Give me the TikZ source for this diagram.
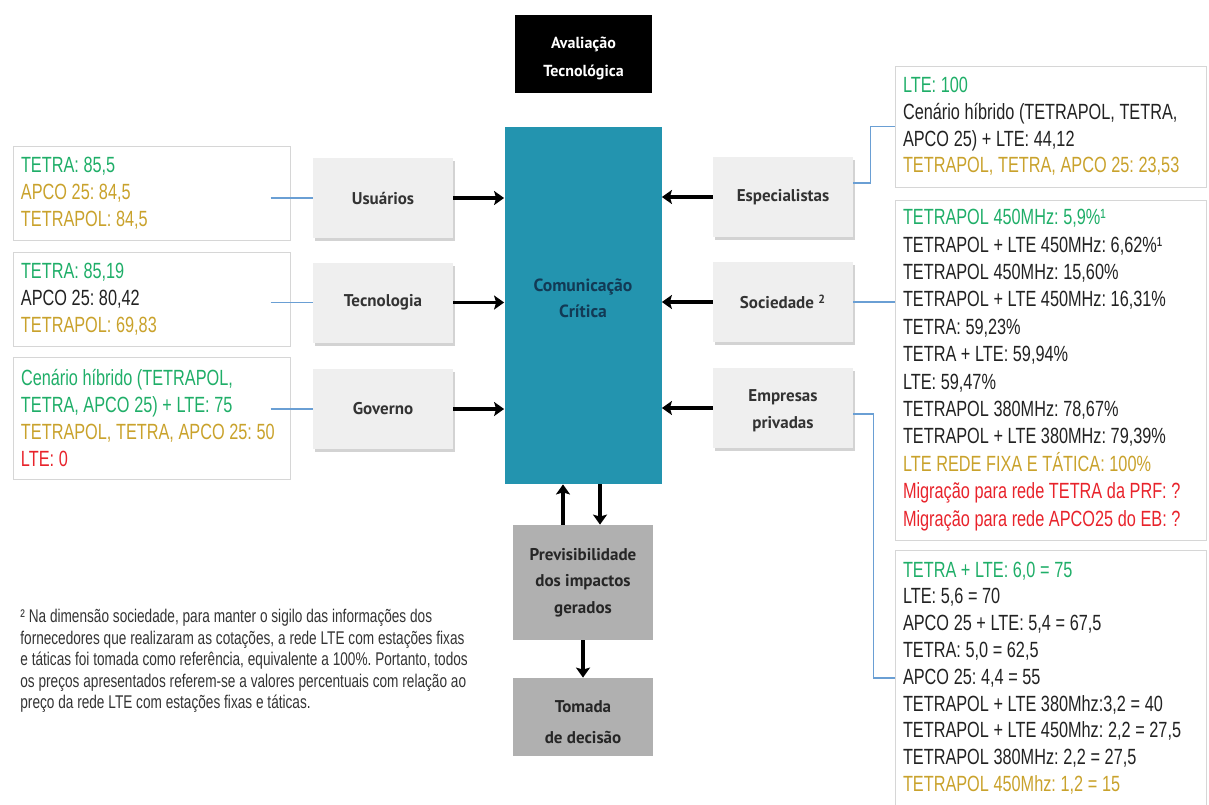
\documentclass[tikz,border=0pt]{standalone}
\usepackage{fontspec}
\setmainfont{Liberation Sans}
\newfontfamily\narrowfont[FakeStretch=0.74]{Liberation Sans}
\newfontfamily\labelfont{PT Sans}
\newcommand{\tightspace}{\spaceskip 0.21em plus 0.1em minus 0.05em\xspaceskip 0.21em\relax}
\newcommand{\listfont}[2]{\narrowfont\fontsize{#1}{#2}\selectfont\tightspace}
\usetikzlibrary{arrows.meta, shadows}
\definecolor{cteal}{HTML}{2394AF}
\definecolor{cnavy}{HTML}{123A55}
\definecolor{cbox}{HTML}{EFEFEF}
\definecolor{cdark}{HTML}{B0B0B0}
\definecolor{cline}{HTML}{D6D6D6}
\definecolor{clink}{HTML}{6A9FD4}
\definecolor{cgreen}{HTML}{1FAE68}
\definecolor{cgold}{HTML}{C9A22C}
\definecolor{cred}{HTML}{E8232B}
\definecolor{ctext}{HTML}{222222}
\definecolor{clabel}{HTML}{333333}
\frenchspacing
\tikzset{
  every picture/.style={x=0.5pt, y=-0.5pt},
  dimbox/.style={fill=cbox, drop shadow={opacity=0.35, shadow xshift=1pt, shadow yshift=-1.5pt},
    minimum width=70pt, minimum height=40pt, align=center, text=clabel,
    font=\labelfont\bfseries\fontsize{8.5}{13.5}\selectfont},
  greybox/.style={fill=cdark, minimum width=70pt, align=center, text=black!85,
    font=\labelfont\bfseries\fontsize{8.5}{13.2}\selectfont},
  listbox/.style={draw=cline, line width=0.5pt, align=left, inner xsep=4pt, text=ctext,
    font=\listfont{11}{13.4}, execute at begin node=\tightspace},
  flow/.style={-{Stealth[length=5pt, width=7pt, inset=1pt]}, line width=1.6pt},
  link/.style={draw=clink, line width=0.6pt},
}

\begin{document}
\begin{tikzpicture}
  \useasboundingbox (0,0) rectangle (1209,804);
  % centre column
  \node[fill=black, text=white, minimum width=68.5pt, minimum height=39pt, align=center,
        font=\labelfont\bfseries\fontsize{8}{14}\selectfont] (title) at (583.5,54) {\rule{0pt}{10pt}Avaliação\\Tecnológica};
  \node[fill=cteal, text=cnavy, minimum width=78.5pt, minimum height=178.5pt, align=center,
        font=\labelfont\bfseries\fontsize{8.8}{13}\selectfont] (comm) at (583,305.5) {Comunicação\\Crítica\rule[-7pt]{0pt}{7pt}};
  \node[greybox, minimum height=57.5pt] (prev) at (583,582.5) {Previsibilidade\\dos impactos\\gerados};
  \node[greybox, minimum height=39pt, font=\labelfont\bfseries\fontsize{8.5}{15.5}\selectfont] (decisao) at (583,717) {\rule{0pt}{11pt}Tomada\\de decisão};

  % dimensions
  \node[dimbox] (usu) at (383,198) {Usuários};
  \node[dimbox] (tec) at (383,302.5) {Tecnologia};
  \node[dimbox] (gov) at (383,409) {Governo};
  \node[dimbox] (esp) at (783,197) {Especialistas};
  \node[dimbox] (soc) at (783,302) {Sociedade~\textsuperscript{2}};
  \node[dimbox] (emp) at (783,408) {\rule{0pt}{9pt}Empresas\\privadas};

  % results
  \node[listbox, text width=130.5pt, minimum height=47pt] (usu-list) at (151.5,193)
    {\textcolor{cgreen}{TETRA: 85,5}\\ \textcolor{cgold}{APCO 25: 84,5}\\ \textcolor{cgold}{TETRAPOL: 84,5}};
  \node[listbox, text width=130.5pt, minimum height=47pt] (tec-list) at (151.5,299)
    {\textcolor{cgreen}{TETRA: 85,19}\\ APCO 25: 80,42\\ \textcolor{cgold}{TETRAPOL: 69,83}};
  \node[listbox, text width=130.5pt, minimum height=61pt] (gov-list) at (151.5,418)
    {\textcolor{cgreen}{Cenário híbrido (TETRAPOL,}\\ \textcolor{cgreen}{TETRA, APCO 25) + LTE: 75}\\
     \textcolor{cgold}{TETRAPOL, TETRA, APCO 25: 50}\\ \textcolor{cred}{LTE: 0}};
  \node[listbox, text width=147.5pt, minimum height=60.5pt] (esp-list) at (1050.5,126.5)
    {\textcolor{cgreen}{LTE: 100}\\ Cenário híbrido (TETRAPOL, TETRA,\\ APCO 25) + LTE: 44,12\\
     \textcolor{cgold}{TETRAPOL, TETRA, APCO 25: 23,53}};
  \node[listbox, text width=147.5pt, minimum height=170pt, font=\listfont{11}{13.7}] (soc-list) at (1050.5,370)
    {\textcolor{cgreen}{TETRAPOL 450MHz: 5,9\%¹}\\ TETRAPOL + LTE 450MHz: 6,62\%¹\\ TETRAPOL 450MHz: 15,60\%\\
     TETRAPOL + LTE 450MHz: 16,31\%\\ TETRA: 59,23\%\\ TETRA + LTE: 59,94\%\\ LTE: 59,47\%\\
     TETRAPOL 380MHz: 78,67\%\\ TETRAPOL + LTE 380MHz: 79,39\%\\ \textcolor{cgold}{LTE REDE FIXA E TÁTICA: 100\%}\\
     \textcolor{cred}{Migração para rede TETRA da PRF: ?}\\ \textcolor{cred}{Migração para rede APCO25 do EB: ?}};
  \node[listbox, text width=147.5pt, minimum height=128pt] (emp-list) at (1050.5,678)
    {\textcolor{cgreen}{TETRA + LTE: 6,0 = 75}\\ LTE: 5,6 = 70\\ APCO 25 + LTE: 5,4 = 67,5\\ TETRA: 5,0 = 62,5\\
     APCO 25: 4,4 = 55\\ TETRAPOL + LTE 380Mhz:3,2 = 40\\ TETRAPOL + LTE 450Mhz: 2,2 = 27,5\\
     TETRAPOL 380MHz: 2,2 = 27,5\\ \textcolor{cgold}{TETRAPOL 450Mhz: 1,2 = 15}};

  \node[anchor=north west, inner sep=0pt, align=left, text=black!80,
        font=\listfont{9.2}{10.75}] (nota) at (20,609)
    {² Na dimensão sociedade, para manter o sigilo das informações dos\\
     fornecedores que realizaram as cotações, a rede LTE com estações fixas\\
     e táticas foi tomada como referência, equivalente a 100\%. Portanto, todos\\
     os preços apresentados referem-se a valores percentuais com relação ao\\
     preço da rede LTE com estações fixas e táticas.};

  \foreach \n in {usu,tec,gov} {
    \draw[flow] (\n) -- (\n -| comm.west);
    \draw[link, shorten <=-10pt] (\n-list.east |- \n) -- (\n);
  }
  \foreach \n in {esp,soc,emp} \draw[flow] (\n) -- (\n -| comm.east);
  \draw[flow] ([xshift=-10pt]prev.north) -- ([xshift=-10pt]comm.south);
  \draw[flow] ([xshift=8.5pt]comm.south) -- ([xshift=8.5pt]prev.north);
  \draw[flow] (prev) -- (decisao);

  \draw[link] ([yshift=7pt]esp.east) -- ++(8.5pt,0) |- (esp-list.west);
  \draw[link] (soc) -- (soc -| soc-list.west);
  \draw[link] ([yshift=-3pt]emp.east) -- ++(10pt,0) |- (emp-list.west);
\end{tikzpicture}
\end{document}
